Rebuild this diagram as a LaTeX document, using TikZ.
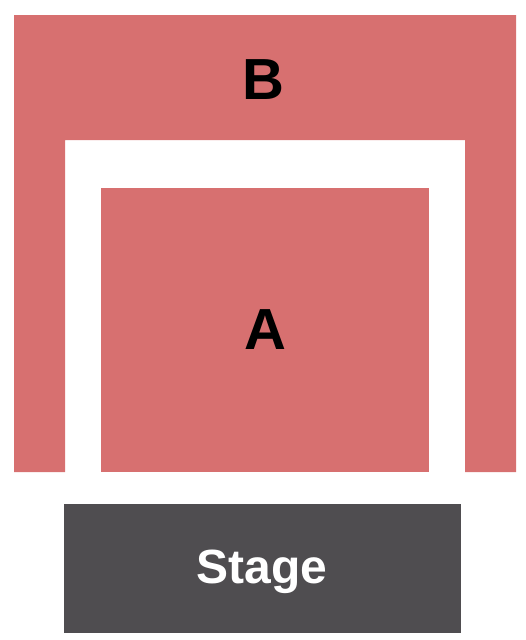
\documentclass[tikz,border=0pt]{standalone}
\usepackage{fontspec}
\setmainfont{Liberation Sans}
\definecolor{seatred}{HTML}{D77070}
\definecolor{stagegray}{HTML}{4F4D50}
\begin{document}
\begin{tikzpicture}[x=1pt,y=-1pt,
	label/.style={font=\bfseries\fontsize{58}{58}\selectfont,inner sep=0pt,anchor=base}]
			\useasboundingbox (0,0) rectangle (525,640);
			\fill[seatred] (14,15)--(516,15)--(516,472)--(465,472)--(465,140)--(65,140)--(65,472)--(14,472)--cycle;
			\fill[seatred] (101,188) rectangle (429,472);
			\fill[stagegray] (64,504) rectangle (461,633);
			\node[label] (secB) at (263.5,99.5) {B};
			\node[label] (secA) at (265.5,349.5) {A};
			\node[label,text=white,font=\bfseries\fontsize{48}{48}\selectfont] (stage) at (262,583) {Stage};
			\end{tikzpicture}
\end{document}
